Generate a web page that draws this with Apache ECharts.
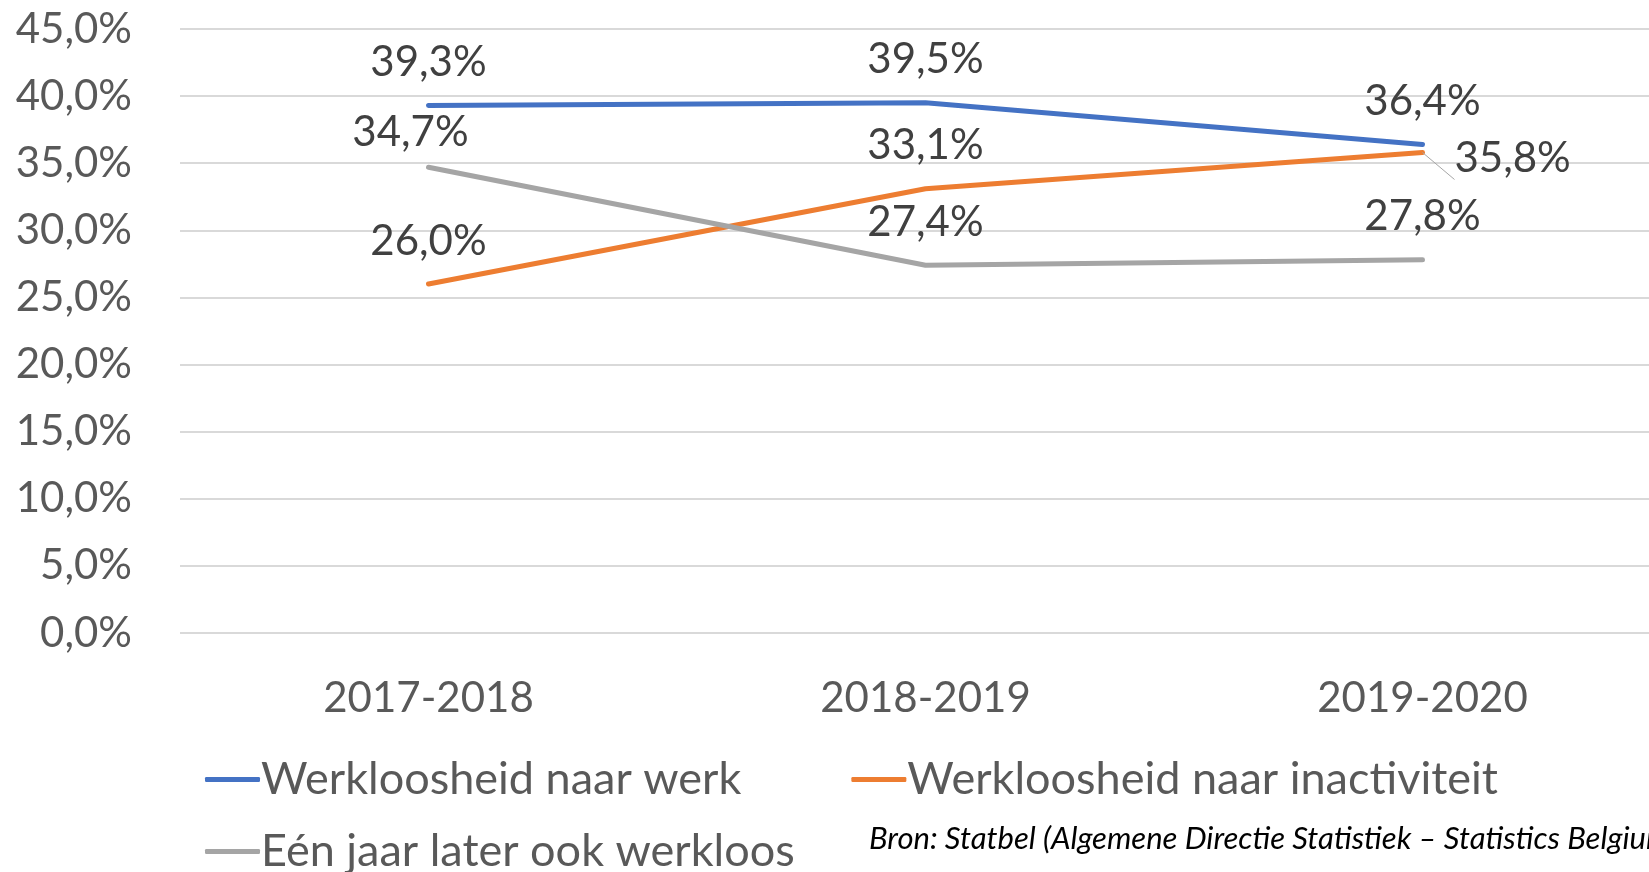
<!DOCTYPE html>
<html>
<head>
<meta charset="utf-8">
<script src="https://cdn.jsdelivr.net/npm/echarts@6/dist/echarts.min.js"></script>
<style>
  html, body { margin: 0; padding: 0; background: #fff; }
  #chart { width: 1649px; height: 872px; }
</style>
</head>
<body>
<div id="chart"></div>
<script>
const categories = ['2017-2018', '2018-2019', '2019-2020'];
const naarWerk = [39.3, 39.5, 36.4];
const naarInactiviteit = [26.0, 33.1, 35.8];
const ookWerkloos = [34.7, 27.4, 27.8];
const seriesNames = ['Werkloosheid naar werk', 'Werkloosheid naar inactiviteit', 'Eén jaar later ook werkloos'];
const sourceText = 'Bron: Statbel (Algemene Directie Statistiek \u2013 Statistics Belgium)';

const fmt = v => v.toFixed(1).replace('.', ',') + '%';
const font = 'Lato, "Open Sans", sans-serif';

document.addEventListener('DOMContentLoaded', () => {
    const myChart = echarts.init(document.getElementById('chart'));

    const lineSeries = (name, data, color) => ({
        name: name,
        type: 'line',
        data: data,
        symbol: 'circle',
        symbolSize: 0,
        showSymbol: true,
        lineStyle: { color: color, width: 5, cap: 'round' },
        itemStyle: { color: color },
        label: {
            show: true,
            position: 'top',
            distance: 22,
            formatter: p => fmt(p.value),
            fontFamily: font,
            fontSize: 42,
            color: '#404040'
        }
    });

    // 35,8% sits to the right of its point with a small leader line
    const orange = lineSeries(seriesNames[1], naarInactiviteit, '#ED7D31');
    orange.data = naarInactiviteit.map((v, i) => i === 2
        ? { value: v, label: { position: 'right', distance: 32, offset: [0, 6] },
            labelLine: { show: true, lineStyle: { color: '#A5A5A5', width: 1 } } }
        : v);

    const gray = lineSeries(seriesNames[2], ookWerkloos, '#A5A5A5');
    gray.data = ookWerkloos.map((v, i) => i === 0
        ? { value: v, label: { distance: 14, offset: [-18, 0] } }
        : v);

    const legendText = { fontFamily: font, fontSize: 45, color: '#595959', padding: [0, 0, 0, -4] };

    const option = {
        animation: false,
        grid: { left: 180, right: -22, top: 29, bottom: 239, outerBoundsMode: 'none', containLabel: false },
        xAxis: {
            type: 'category',
            data: categories,
            axisLine: { show: false },
            axisTick: { show: false },
            axisLabel: { fontFamily: font, fontSize: 42, color: '#595959', margin: 44 }
        },
        yAxis: {
            type: 'value',
            min: 0,
            max: 45,
            interval: 5,
            axisLabel: { formatter: fmt, fontFamily: font, fontSize: 42, color: '#595959', margin: 48 },
            splitLine: { lineStyle: { color: '#D9D9D9', width: 2 } }
        },
        legend: [
            {
                data: [seriesNames[0], seriesNames[1]],
                left: 200, top: 752,
                itemWidth: 55, itemHeight: 5, itemGap: 110,
                icon: 'roundRect',
                textStyle: legendText
            },
            {
                data: [seriesNames[2]],
                left: 200, top: 824,
                itemWidth: 55, itemHeight: 5,
                icon: 'roundRect',
                textStyle: legendText
            }
        ],
        graphic: [{
            type: 'text',
            left: 869, top: 823,
            style: { text: sourceText, fontFamily: font, fontStyle: 'italic', fontSize: 31, fill: '#000' }
        }],
        series: [
            lineSeries(seriesNames[0], naarWerk, '#4472C4'),
            orange,
            gray
        ]
    };
    myChart.setOption(option);
    window.addEventListener('resize', () => myChart.resize());
});
</script>
</body>
</html>
